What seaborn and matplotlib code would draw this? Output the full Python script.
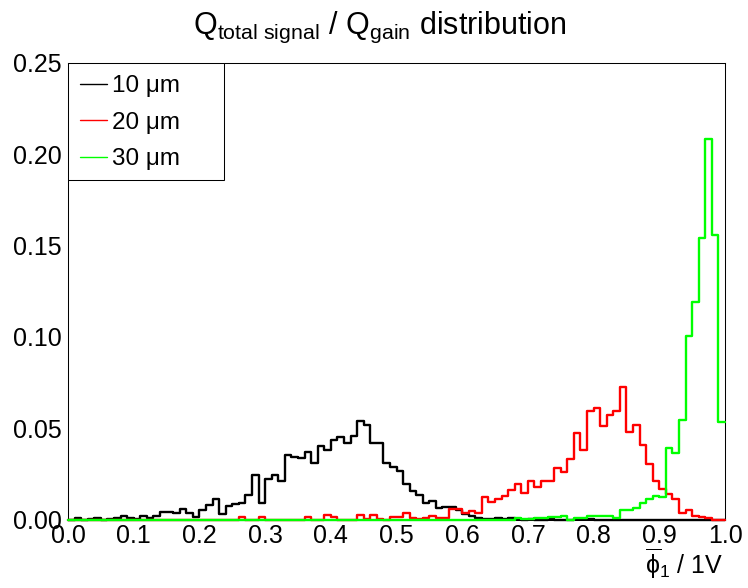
import numpy as np
import pandas as pd
import matplotlib
matplotlib.use("Agg")
import matplotlib.pyplot as plt
import seaborn as sns
from matplotlib.lines import Line2D
from matplotlib.patches import Rectangle
from matplotlib.ticker import MultipleLocator, FormatStrFormatter

# ---------------- data (bin contents, 100 bins of width 0.01 on [0, 1]) ----------------
x_min, x_max, n_bins = 0.0, 1.0, 100

h_10um = [
    0.0, 0.001, 0.0, 0.0005, 0.001, 0.0, 0.0005, 0.001, 0.002, 0.001,
    0.0005, 0.002, 0.001, 0.002, 0.004, 0.004, 0.0035, 0.0055, 0.0035, 0.0015,
    0.005, 0.008, 0.0115, 0.003, 0.0072, 0.0083, 0.0092, 0.0134, 0.0243, 0.0092,
    0.0222, 0.0243, 0.021, 0.0353, 0.0344, 0.0335, 0.037, 0.031, 0.040, 0.038,
    0.0435, 0.045, 0.042, 0.046, 0.054, 0.0517, 0.042, 0.0417, 0.031, 0.029,
    0.0265, 0.0195, 0.0155, 0.0134, 0.0092, 0.010, 0.0061, 0.007, 0.007, 0.0052,
    0.003, 0.002, 0.001, 0.0005, 0.0005, 0.001, 0.0005, 0.001, 0.0005, 0.0,
    0.0005, 0.0, 0.0, 0.0005, 0.0, 0.0, 0.0, 0.0005, 0.0005, 0.0005,
    0.0, 0.0, 0.0, 0.0, 0.0, 0.0, 0.0, 0.0, 0.0, 0.0,
    0.0, 0.0, 0.0, 0.0, 0.0, 0.0, 0.0, 0.0, 0.0, 0.0,
]
h_20um = [
    0.0, 0.0, 0.0, 0.0, 0.0, 0.0, 0.0, 0.0, 0.0, 0.0,
    0.0, 0.0, 0.0, 0.0, 0.0, 0.0, 0.0, 0.0, 0.0, 0.0,
    0.0, 0.0, 0.0, 0.0, 0.0, 0.0, 0.0015, 0.0, 0.0, 0.0015,
    0.0, 0.0, 0.0, 0.0, 0.0, 0.0, 0.0015, 0.0, 0.0, 0.0025,
    0.0016, 0.0, 0.0, 0.0, 0.0025, 0.0005, 0.0025, 0.0005, 0.0, 0.0015,
    0.0015, 0.0034, 0.001, 0.0005, 0.001, 0.0019, 0.001, 0.001, 0.006, 0.0058,
    0.0034, 0.0048, 0.0034, 0.0125, 0.0097, 0.011, 0.0128, 0.016, 0.0192, 0.0143,
    0.021, 0.018, 0.021, 0.021, 0.028, 0.026, 0.033, 0.0476, 0.038, 0.0594,
    0.0612, 0.0512, 0.0572, 0.0594, 0.0723, 0.048, 0.052, 0.041, 0.0302, 0.021,
    0.0165, 0.0141, 0.011, 0.0034, 0.0052, 0.0021, 0.0016, 0.001, 0.0, 0.0,
]
h_30um = [
    0.0, 0.0, 0.0, 0.0, 0.0, 0.0, 0.0, 0.0, 0.0, 0.0,
    0.0, 0.0, 0.0, 0.0, 0.0, 0.0, 0.0, 0.0, 0.0, 0.0,
    0.0, 0.0, 0.0, 0.0, 0.0, 0.0, 0.0, 0.0, 0.0, 0.0,
    0.0, 0.0, 0.0, 0.0, 0.0, 0.0, 0.0, 0.0, 0.0, 0.0,
    0.0, 0.0, 0.0, 0.0, 0.0, 0.0, 0.0, 0.0, 0.0, 0.0,
    0.0, 0.0, 0.0, 0.0, 0.0, 0.0, 0.0, 0.0, 0.0, 0.0,
    0.0, 0.0, 0.0, 0.0, 0.0, 0.0, 0.0, 0.0, 0.001, 0.0005,
    0.0005, 0.001, 0.001, 0.0015, 0.0015, 0.002, 0.0, 0.001, 0.001, 0.002,
    0.002, 0.002, 0.002, 0.001, 0.0052, 0.0052, 0.0061, 0.0092, 0.011, 0.013,
    0.0121, 0.039, 0.0362, 0.0545, 0.1004, 0.119, 0.1544, 0.2085, 0.1556, 0.0532,
]

series_labels = ["10 \u03bcm", "20 \u03bcm", "30 \u03bcm"]
series_colors = ["#000000", "#ff0000", "#00ff00"]

title_text = r"$\mathregular{Q_{total\ signal}}$ / $\mathregular{Q_{gain}}$ distribution"
xlabel_text = r"$\overline{\mathregular{\phi}}_{\mathregular{1}}$ / 1V"

# ---------------- style ----------------
sns.set_theme(style="white")
plt.rcParams['font.family'] = ['Liberation Sans', 'DejaVu Sans']
plt.rcParams['text.color'] = 'black'
plt.rcParams['mathtext.fontset'] = 'custom'
plt.rcParams['mathtext.rm'] = 'Liberation Sans'
plt.rcParams['mathtext.it'] = 'Liberation Sans:italic'
plt.rcParams['mathtext.bf'] = 'Liberation Sans:bold'

W, H = 748, 588
fig = plt.figure(figsize=(W / 100, H / 100), dpi=100)
ax = fig.add_axes([68 / W, 1 - 519.5 / H, (725 - 68) / W, (519.5 - 63) / H])

bin_w = (x_max - x_min) / n_bins
centers = x_min + bin_w * (np.arange(n_bins) + 0.5)

df = pd.DataFrame({
    "x": np.concatenate([centers] * 3),
    "w": np.concatenate([h_10um, h_20um, h_30um]),
    "s": np.repeat(series_labels, n_bins),
})

for lab, col in zip(series_labels, series_colors):
    sub = df[df["s"] == lab]
    sns.histplot(data=sub, x="x", weights="w", bins=n_bins,
                 binrange=(x_min, x_max), element="step",
                 fill=False, color=col, linewidth=1.7, ax=ax,
                 clip_on=False, zorder=3)

ax.set_xlim(x_min, x_max)
ax.set_ylim(0, 0.25)
ax.set_xlabel("")
ax.set_ylabel("")

ax.xaxis.set_major_locator(MultipleLocator(0.1))
ax.xaxis.set_minor_locator(MultipleLocator(0.02))
ax.yaxis.set_major_locator(MultipleLocator(0.05))
ax.yaxis.set_minor_locator(MultipleLocator(0.01))
ax.xaxis.set_major_formatter(FormatStrFormatter("%.1f"))
ax.yaxis.set_major_formatter(FormatStrFormatter("%.2f"))

ax.tick_params(which="both", direction="in", top=False, right=False,
               color="black", width=0.75, labelcolor="black")
ax.tick_params(axis="y", which="major", length=14.4, labelsize=18, pad=4.5)
ax.tick_params(axis="y", which="minor", length=7.2)
ax.tick_params(axis="x", which="major", length=9.4, labelsize=18, pad=3.5)
ax.tick_params(axis="x", which="minor", length=4.7)

for sp in ax.spines.values():
    sp.set_color("black")
    sp.set_linewidth(0.75)
    sp.set_visible(True)

# legend box (fixed size like ROOT TLegend)
ax.add_patch(Rectangle((0, 1 - 116.5 / 456.5), 156 / 657, 116.5 / 456.5,
                       transform=ax.transAxes, facecolor="white",
                       edgecolor="black", linewidth=0.75, zorder=4))
handles = [Line2D([0], [0], color=c, lw=1.0) for c in series_colors]
leg = ax.legend(handles, series_labels, loc="upper left",
                bbox_to_anchor=(0.0, 1.0), borderaxespad=0.0, frameon=False,
                fontsize=17.5, handlelength=1.1, handletextpad=0.22,
                labelspacing=0.6, borderpad=0.5)
leg.set_zorder(5)

fig.text(380 / W, 1 - 34 / H, title_text, ha="center", va="baseline",
         fontsize=22, color="black")
fig.text(723 / W, 1 - 574 / H, xlabel_text, ha="right", va="baseline",
         fontsize=18, color="black")

fig.savefig("out.png", dpi=100, facecolor="white")
